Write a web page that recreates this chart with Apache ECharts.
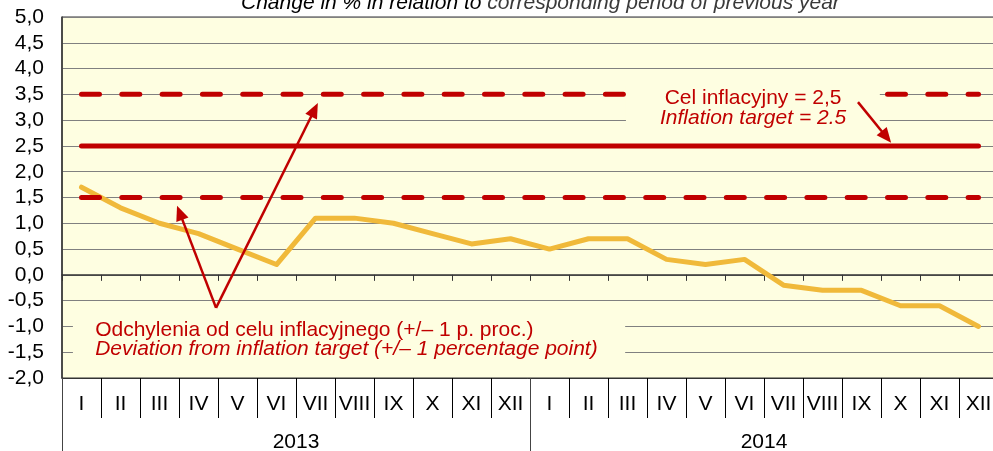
<!DOCTYPE html>
<html>
<head>
<meta charset="utf-8">
<script src="https://cdn.jsdelivr.net/npm/echarts@6/dist/echarts.min.js"></script>
<style>
html,body{margin:0;padding:0;background:#fff;}
#c{width:993px;height:451px;}
</style>
</head>
<body>
<div id="c"></div>
<script>
var months = ['I','II','III','IV','V','VI','VII','VIII','IX','X','XI','XII','I','II','III','IV','V','VI','VII','VIII','IX','X','XI','XII'];
var years = ['2013','2014'];
var inflation = [1.7,1.3,1.0,0.8,0.5,0.2,1.1,1.1,1.0,0.8,0.6,0.7,0.5,0.7,0.7,0.3,0.2,0.3,-0.2,-0.3,-0.3,-0.6,-0.6,-1.0];
var target = 2.5;
var upperBand = 3.5;
var lowerBand = 1.5;
var yTicks = {min:-2, max:5, interval:0.5};

var targetLine = months.map(function(){return target;});
var upperLine = months.map(function(){return upperBand;});
var lowerLine = months.map(function(){return lowerBand;});

var RED = '#C00000';
var FONT = '"Liberation Sans", Arial, sans-serif';
var FS = 21;

var chart = echarts.init(document.getElementById('c'));
chart.setOption({
  backgroundColor:'#ffffff',
  animation:false,
  title:{
    text:'{a|Change in % in relation to }{b|corresponding period of previous year}',
    left:236, top:-12,
    textStyle:{fontWeight:'normal', rich:{
      a:{fontFamily:FONT,fontSize:FS,fontStyle:'italic',fontWeight:'normal',color:'#000'},
      b:{fontFamily:FONT,fontSize:FS,fontStyle:'italic',fontWeight:'normal',color:'#3a3a3a'}
    }}
  },
  grid:{left:62, top:17, width:936, height:361, outerBoundsMode:'none', containLabel:false,
        show:true, backgroundColor:'#FEFEE1', borderColor:'#333', borderWidth:1},
  yAxis:{
    type:'value', min:yTicks.min, max:yTicks.max, interval:yTicks.interval,
    axisLine:{show:true, lineStyle:{color:'#333', width:1.5}},
    axisTick:{show:false},
    axisLabel:{margin:18, fontFamily:FONT, fontSize:FS, color:'#000',
      formatter:function(v){return v.toFixed(1).replace('.',',');}},
    splitLine:{show:true, lineStyle:{color:'#808080', width:1}}
  },
  xAxis:[
    {type:'category', data:months, position:'bottom', boundaryGap:true,
     axisLine:{show:true, onZero:true, lineStyle:{color:'#333', width:1.5}},
     axisTick:{show:true, length:6, lineStyle:{color:'#333'}},
     axisLabel:{show:false}, splitLine:{show:false}},
    {type:'category', data:months, position:'bottom', boundaryGap:true,
     axisLine:{show:true, onZero:false, lineStyle:{color:'#333', width:1}},
     axisTick:{show:true, length:40, interval:0, lineStyle:{color:'#000'}},
     axisLabel:{interval:0, margin:16, fontFamily:FONT, fontSize:FS, color:'#000'},
     splitLine:{show:false}},
    {type:'category', data:years, position:'bottom', boundaryGap:true,
     axisLine:{show:false, onZero:false},
     axisTick:{show:true, length:73, interval:0, lineStyle:{color:'#444'}},
     axisLabel:{interval:0, margin:54, fontFamily:FONT, fontSize:FS, color:'#000'},
     splitLine:{show:false}}
  ],
  series:[
    {type:'line', data:inflation, xAxisIndex:0, symbol:'none', z:3,
     lineStyle:{color:'#F0B93A', width:5, join:'round', cap:'round'}},
    {type:'line', data:targetLine, xAxisIndex:0, symbol:'none', z:4,
     lineStyle:{color:RED, width:5, cap:'round'}},
    {type:'line', data:upperLine, xAxisIndex:0, symbol:'none', z:4,
     lineStyle:{color:RED, width:5, cap:'round', type:[18,22.3]}},
    {type:'line', data:lowerLine, xAxisIndex:0, symbol:'none', z:4,
     lineStyle:{color:RED, width:5, cap:'round', type:[18,22.3]}}
  ]
});

// annotations in data coordinates (fractional category index, value)
var arrows = [
  {from:[3.45,-0.64], to:[2.45,1.34]},
  {from:[3.45,-0.64], to:[6.06,3.33]},
  {from:[19.91,3.35], to:[20.76,2.56]}
];
var upperBox = {x0:13.96, x1:20.47, y0:3.65, y1:2.85};
var lowerBox = {x0:-0.22, x1:13.94, y0:-0.8, y1:-1.75};
var upperText = {x:17.22, y1:3.43, y2:3.04, t1:'Cel inflacyjny = 2,5', t2:'Inflation target = 2.5'};
var lowerText = {x:0.35, y1:-1.07, y2:-1.45, t1:'Odchylenia od celu inflacyjnego (+/\u2013 1 p. proc.)', t2:'Deviation from inflation target (+/\u2013 1 percentage point)'};

function toPx(i, v){
  var p0 = chart.convertToPixel({xAxisIndex:0, yAxisIndex:0}, [0, v]);
  var p1 = chart.convertToPixel({xAxisIndex:0, yAxisIndex:0}, [1, v]);
  return [p0[0] + (p1[0]-p0[0])*i, p0[1]];
}

var els = [];
function box(b){
  var a = toPx(b.x0, b.y0), c = toPx(b.x1, b.y1);
  els.push({type:'rect', z:50, shape:{x:a[0], y:a[1], width:c[0]-a[0], height:c[1]-a[1]}, style:{fill:'#FEFEE1'}});
}
box(upperBox); box(lowerBox);

function text(t, center){
  var p1 = toPx(t.x, t.y1), p2 = toPx(t.x, t.y2);
  var align = center ? 'center' : 'left';
  els.push({type:'text', z:60, x:p1[0], y:p1[1], style:{text:t.t1, fill:RED, font:FS+'px '+FONT, textAlign:align, textVerticalAlign:'middle'}});
  els.push({type:'text', z:60, x:p2[0], y:p2[1], style:{text:t.t2, fill:RED, font:'italic '+FS+'px '+FONT, textAlign:align, textVerticalAlign:'middle'}});
}
text(upperText, true); text(lowerText, false);

arrows.forEach(function(a){
  var s = toPx(a.from[0], a.from[1]), e = toPx(a.to[0], a.to[1]);
  var dx = e[0]-s[0], dy = e[1]-s[1], L = Math.sqrt(dx*dx+dy*dy);
  var ux = dx/L, uy = dy/L, hl = 15, hw = 6.5;
  var bx = e[0]-ux*hl, by = e[1]-uy*hl;
  els.push({type:'polyline', z:70, shape:{points:[s, [bx+ux*2, by+uy*2]]}, style:{stroke:RED, lineWidth:2.5, fill:null}});
  els.push({type:'polygon', z:70, shape:{points:[e, [bx-uy*hw, by+ux*hw], [bx+uy*hw, by-ux*hw]]}, style:{fill:RED}});
});
chart.setOption({graphic:{elements:els}});
</script>
</body>
</html>
